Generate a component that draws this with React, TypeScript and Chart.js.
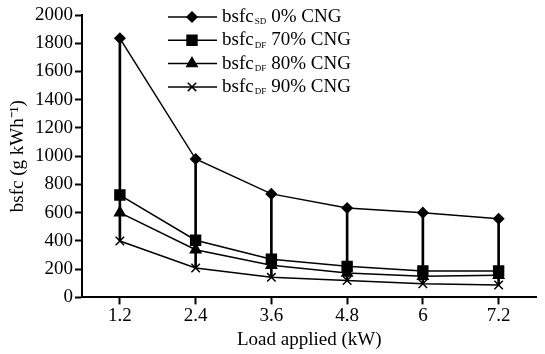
import React, { useEffect, useRef } from "react";
import { Chart, registerables } from "chart.js";
import { drawPoint } from "chart.js/helpers";

Chart.register(...registerables);

const loads = ["1.2", "2.4", "3.6", "4.8", "6", "7.2"];
const sd0 = [1835, 980, 733, 633, 600, 557];
const df70 = [725, 405, 270, 220, 187, 187];
const df80 = [600, 338, 228, 172, 150, 157];
const df90 = [400, 208, 142, 120, 97, 88];
const yTicks = { min: 0, max: 2000, step: 200 };

const FONT = "'Liberation Serif', 'Times New Roman', serif";
const FS = 19;

const legendItems = [
  { main: "bsfc", sub: "SD", rest: "0% CNG", style: "rectRot", radius: 5 },
  { main: "bsfc", sub: "DF", rest: "70% CNG", style: "rect", radius: 7 },
  { main: "bsfc", sub: "DF", rest: "80% CNG", style: "triangle", radius: 6 },
  { main: "bsfc", sub: "DF", rest: "90% CNG", style: "crossRot", radius: 6 },
];

const legendPlugin = {
  id: "customLegend",
  afterDraw(chart: any) {
    const ctx = chart.ctx;
    ctx.save();
    legendItems.forEach((it, i) => {
      const y = 17 + i * 23.3;
      ctx.strokeStyle = "#000";
      ctx.fillStyle = "#000";
      ctx.lineWidth = 1.5;
      ctx.beginPath();
      ctx.moveTo(168, y);
      ctx.lineTo(217, y);
      ctx.stroke();
      drawPoint(ctx, { pointStyle: it.style, radius: it.radius, borderWidth: 1.5, rotation: 0 } as any, 192, y);
      if (it.style !== "crossRot") ctx.fill();
      ctx.textBaseline = "middle";
      ctx.textAlign = "left";
      ctx.font = `${FS}px ${FONT}`;
      let x = 222;
      ctx.fillText(it.main, x, y);
      x += ctx.measureText(it.main).width + 1;
      ctx.font = `9px ${FONT}`;
      ctx.fillText(it.sub, x, y + 5);
      x += ctx.measureText(it.sub).width + 5;
      ctx.font = `${FS}px ${FONT}`;
      ctx.fillText(it.rest, x, y);
    });
    ctx.restore();
  },
};

export default function App() {
  const ref = useRef<HTMLCanvasElement>(null);
  useEffect(() => {
    document.body.style.margin = "0";
    const all = [sd0, df70, df80, df90];
    const ranges = loads.map((_, i) => {
      const vals = all.map((a) => a[i]);
      return [Math.min(...vals), Math.max(...vals)];
    });
    const lineDs = (label: string, data: number[], style: string, radius: number) => ({
      type: "line" as const,
      label,
      data,
      borderColor: "#000",
      backgroundColor: "#000",
      borderWidth: 1.5,
      pointStyle: style,
      pointRadius: radius,
      pointBorderWidth: 1.5,
      pointBackgroundColor: "#000",
      pointBorderColor: "#000",
      tension: 0,
      order: 1,
    });
    const chart = new Chart(ref.current!, {
      type: "bar",
      data: {
        labels: loads,
        datasets: [
          {
            type: "bar",
            label: "range",
            data: ranges as any,
            backgroundColor: "#000",
            barThickness: 2,
            order: 2,
          } as any,
          lineDs("sd0", sd0, "rectRot", 5),
          lineDs("df70", df70, "rect", 7),
          lineDs("df80", df80, "triangle", 6),
          lineDs("df90", df90, "crossRot", 6),
        ],
      },
      options: {
        animation: false,
        responsive: true,
        maintainAspectRatio: false,
        layout: { padding: { top: 15, right: 0, left: 0, bottom: 0 } },
        plugins: { legend: { display: false }, tooltip: { enabled: false } },
        scales: {
          x: {
            offset: true,
            grid: {
              display: true,
              drawOnChartArea: false,
              drawTicks: true,
              tickLength: 7,
              tickWidth: 2,
              tickColor: "#000",
              offset: false,
            },
            border: { display: true, color: "#000", width: 2 },
            ticks: { color: "#000", font: { family: FONT, size: FS }, padding: 0 },
            title: {
              display: true,
              text: "Load applied (kW)",
              color: "#000",
              font: { family: FONT, size: FS },
              padding: { top: 1, bottom: 3 },
            },
          },
          y: {
            min: yTicks.min,
            max: yTicks.max,
            afterFit: (s: any) => {
              s.width = 82;
            },
            grid: {
              display: true,
              drawOnChartArea: false,
              drawTicks: true,
              tickLength: 7,
              tickWidth: 2,
              tickColor: "#000",
            },
            border: { display: true, color: "#000", width: 2 },
            ticks: {
              stepSize: yTicks.step,
              color: "#000",
              font: { family: FONT, size: FS },
              padding: 2,
              callback: (v: any) => String(v),
            },
            title: {
              display: true,
              text: "bsfc (g kWh\u207B\u00B9)",
              color: "#000",
              font: { family: FONT, size: FS },
              padding: { top: 7, bottom: 0 },
            },
          },
        },
      },
      plugins: [legendPlugin],
    });
    return () => chart.destroy();
  }, []);
  return (
    <div style={{ position: "relative", width: 545, height: 354 }}>
      <canvas ref={ref} />
    </div>
  );
}
